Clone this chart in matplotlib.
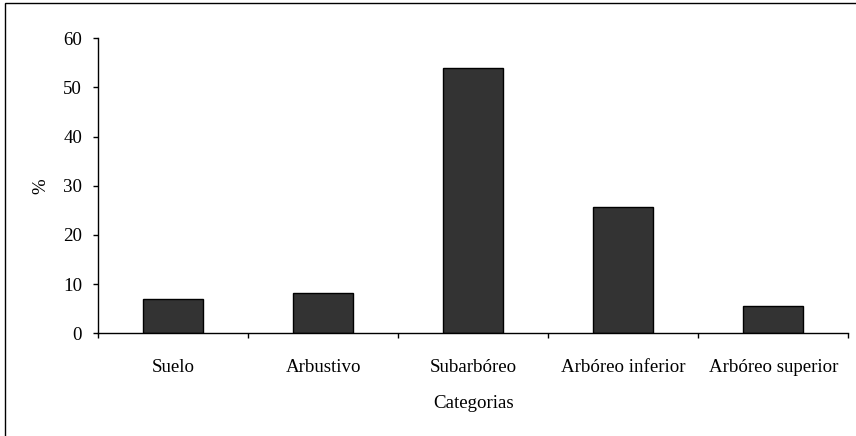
import numpy as np
import matplotlib.pyplot as plt
from matplotlib.patches import Rectangle

# Porcentaje por categoria de estrato
categorias = ['Suelo', 'Arbustivo', 'Subarbóreo', 'Arbóreo inferior', 'Arbóreo superior']
porcentaje = [6.9, 8.1, 54.0, 25.6, 5.5]
yticks = [0, 10, 20, 30, 40, 50, 60]

plt.rcParams['font.family'] = ['Liberation Serif', 'DejaVu Serif']
fs = 13.6

fig = plt.figure(figsize=(8.56, 4.36), dpi=100)
ax = fig.add_axes([98.3 / 856, 102.7 / 436, 750 / 856, 295 / 436])

x = np.arange(len(categorias))
ax.bar(x, porcentaje, width=0.4, color='#333333', edgecolor='black', linewidth=1.0)

ax.set_xlim(-0.5, len(categorias) - 0.5)
ax.set_ylim(0, 60)
ax.set_yticks(yticks)
ax.set_yticklabels([str(v) for v in yticks], fontsize=fs)

# ticks between categories, labels centred on bars
ax.set_xticks(np.arange(-0.5, len(categorias), 1.0))
ax.set_xticklabels([])
ax.set_xticks(x, minor=True)
ax.set_xticklabels(categorias, minor=True, fontsize=fs)
ax.tick_params(axis='x', which='major', direction='out', length=3.6, width=1.0)
ax.tick_params(axis='x', which='minor', length=0, pad=18.5)
ax.tick_params(axis='y', direction='out', length=3.6, width=1.0, pad=8)

for s in ['top', 'right']:
    ax.spines[s].set_visible(False)
ax.spines['left'].set_linewidth(1.0)
ax.spines['bottom'].set_linewidth(1.0)

ax.set_xlabel('Categorias', fontsize=fs, labelpad=13.5)
ax.set_ylabel('%', fontsize=fs, labelpad=10)

# outer chart frame (cut off on the right and bottom)
fig.patches.append(Rectangle((5 / 856, -0.1), 1.2, 0.1 + 433 / 436,
                             transform=fig.transFigure, fill=False,
                             edgecolor='black', linewidth=1.0))

fig.savefig('out.png', dpi=100)
